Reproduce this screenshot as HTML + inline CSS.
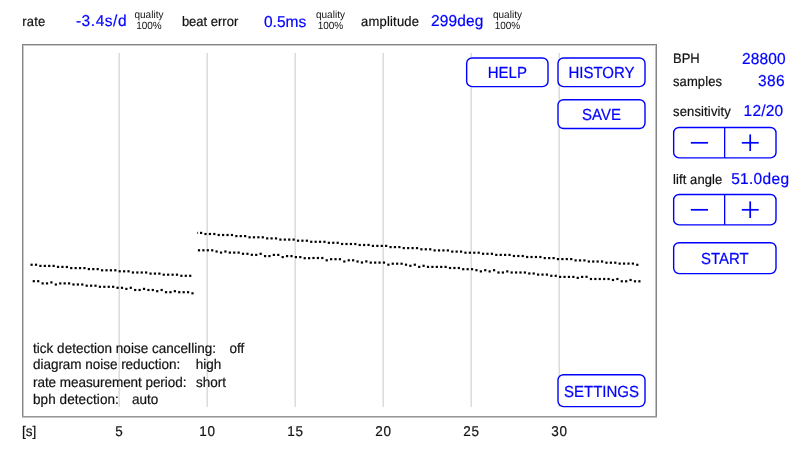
<!DOCTYPE html>
<html><head><meta charset="utf-8"><title>Timegrapher</title>
<style>
html,body{margin:0;padding:0;background:#fff;}
body{width:811px;height:456px;position:relative;overflow:hidden;font-family:"Liberation Sans",Arial,Helvetica,sans-serif;-webkit-font-smoothing:antialiased;text-rendering:geometricPrecision;}
#w{position:absolute;left:0;top:0;width:811px;height:456px;will-change:transform;}
.t{position:absolute;white-space:nowrap;-webkit-text-stroke:0.2px currentColor;}
.frame{position:absolute;box-sizing:border-box;border:1px solid #838383;border-bottom-color:#979797;box-shadow:inset 1px 1px 0 #cacaca,inset -1px 0 0 #c2c2c2,0 1px 0 #c2c2c2;}
.grid{position:absolute;background:#dcdcdc;box-shadow:-1px 0 0 #ececec;}
.btn{position:absolute;box-sizing:border-box;border:1.7px solid #0000ff;border-radius:6px;background:#fff;}
.div,.bar{position:absolute;background:#0000ff;}
.dots,.shapes{position:absolute;left:0;top:0;}
.dots{fill:#000;}
</style></head><body>
<div id="w">
<svg class="shapes" width="811" height="456" viewBox="0 0 811 456"><rect x="22" y="44" width="635" height="1" fill="#838383"/><rect x="23" y="45" width="633" height="1" fill="#cacaca"/><rect x="22" y="44" width="1" height="373" fill="#838383"/><rect x="23" y="45" width="1" height="371" fill="#cacaca"/><rect x="656" y="44" width="1" height="373" fill="#858585"/><rect x="655" y="46" width="1" height="370" fill="#c2c2c2"/><rect x="22" y="416" width="635" height="1" fill="#979797"/><rect x="22" y="417" width="635" height="1" fill="#c4c4c4"/><rect x="119" y="53" width="1" height="354" fill="#dcdcdc"/><rect x="118" y="53" width="1" height="354" fill="#ececec"/><rect x="207" y="53" width="1" height="354" fill="#dcdcdc"/><rect x="206" y="53" width="1" height="354" fill="#ececec"/><rect x="295" y="53" width="1" height="354" fill="#dcdcdc"/><rect x="294" y="53" width="1" height="354" fill="#ececec"/><rect x="383" y="53" width="1" height="354" fill="#dcdcdc"/><rect x="382" y="53" width="1" height="354" fill="#ececec"/><rect x="471" y="53" width="1" height="354" fill="#dcdcdc"/><rect x="470" y="53" width="1" height="354" fill="#ececec"/><rect x="559" y="53" width="1" height="354" fill="#dcdcdc"/><rect x="558" y="53" width="1" height="354" fill="#ececec"/><rect x="466.65" y="58.0" width="81.35" height="28.65" rx="5.5" ry="5.5" fill="#fff" stroke="#0000ff" stroke-width="1.4"/><rect x="558.0" y="58.0" width="87.00" height="28.65" rx="5.5" ry="5.5" fill="#fff" stroke="#0000ff" stroke-width="1.4"/><rect x="558.0" y="99.7" width="87.00" height="28.80" rx="5.5" ry="5.5" fill="#fff" stroke="#0000ff" stroke-width="1.4"/><rect x="558.0" y="374.7" width="87.00" height="31.90" rx="5.5" ry="5.5" fill="#fff" stroke="#0000ff" stroke-width="1.4"/><rect x="673.65" y="127.5" width="102.35" height="30.40" rx="5.5" ry="5.5" fill="#fff" stroke="#0000ff" stroke-width="1.4"/><rect x="724" y="127.50" width="1.3" height="30.40" fill="#0000ff"/><rect x="690.8" y="141.95" width="17.2" height="1.7" fill="#0000ff"/><rect x="741.8" y="141.95" width="16.9" height="1.7" fill="#0000ff"/><rect x="749.35" y="134.40" width="1.7" height="16.6" fill="#0000ff"/><rect x="673.65" y="194.5" width="102.35" height="30.40" rx="5.5" ry="5.5" fill="#fff" stroke="#0000ff" stroke-width="1.4"/><rect x="724" y="194.50" width="1.3" height="30.40" fill="#0000ff"/><rect x="690.8" y="208.95" width="17.2" height="1.7" fill="#0000ff"/><rect x="741.8" y="208.95" width="16.9" height="1.7" fill="#0000ff"/><rect x="749.35" y="201.40" width="1.7" height="16.6" fill="#0000ff"/><rect x="673.65" y="242.7" width="102.35" height="30.90" rx="5.5" ry="5.5" fill="#fff" stroke="#0000ff" stroke-width="1.4"/></svg>
<svg class="dots" width="811" height="456" viewBox="0 0 811 456"><rect x="30.50" y="263.65" width="2.2" height="2.2"/><rect x="34.91" y="263.65" width="2.2" height="2.2"/><rect x="39.31" y="264.80" width="2.2" height="2.2"/><rect x="43.72" y="264.80" width="2.2" height="2.2"/><rect x="48.12" y="264.80" width="2.2" height="2.2"/><rect x="52.53" y="264.80" width="2.2" height="2.2"/><rect x="56.93" y="265.80" width="2.2" height="2.2"/><rect x="61.34" y="265.80" width="2.2" height="2.2"/><rect x="65.74" y="265.90" width="2.2" height="2.2"/><rect x="70.15" y="267.00" width="2.2" height="2.2"/><rect x="74.56" y="267.00" width="2.2" height="2.2"/><rect x="78.96" y="267.00" width="2.2" height="2.2"/><rect x="83.37" y="267.00" width="2.2" height="2.2"/><rect x="87.77" y="268.00" width="2.2" height="2.2"/><rect x="92.18" y="268.00" width="2.2" height="2.2"/><rect x="96.58" y="268.00" width="2.2" height="2.2"/><rect x="100.99" y="269.20" width="2.2" height="2.2"/><rect x="105.39" y="269.20" width="2.2" height="2.2"/><rect x="109.80" y="269.20" width="2.2" height="2.2"/><rect x="114.21" y="269.20" width="2.2" height="2.2"/><rect x="118.61" y="270.20" width="2.2" height="2.2"/><rect x="123.02" y="270.20" width="2.2" height="2.2"/><rect x="127.42" y="270.20" width="2.2" height="2.2"/><rect x="131.83" y="271.40" width="2.2" height="2.2"/><rect x="136.23" y="271.40" width="2.2" height="2.2"/><rect x="140.64" y="271.40" width="2.2" height="2.2"/><rect x="145.04" y="271.40" width="2.2" height="2.2"/><rect x="149.45" y="272.50" width="2.2" height="2.2"/><rect x="153.86" y="272.50" width="2.2" height="2.2"/><rect x="158.26" y="272.50" width="2.2" height="2.2"/><rect x="162.67" y="273.60" width="2.2" height="2.2"/><rect x="167.07" y="273.60" width="2.2" height="2.2"/><rect x="171.48" y="273.60" width="2.2" height="2.2"/><rect x="175.88" y="273.60" width="2.2" height="2.2"/><rect x="180.29" y="274.70" width="2.2" height="2.2"/><rect x="184.69" y="274.70" width="2.2" height="2.2"/><rect x="189.10" y="274.70" width="2.2" height="2.2"/><rect x="32.70" y="280.10" width="2.2" height="2.2"/><rect x="37.11" y="280.10" width="2.2" height="2.2"/><rect x="41.52" y="282.30" width="2.2" height="2.2"/><rect x="45.92" y="282.30" width="2.2" height="2.2"/><rect x="50.33" y="281.30" width="2.2" height="2.2"/><rect x="54.74" y="283.40" width="2.2" height="2.2"/><rect x="59.15" y="282.30" width="2.2" height="2.2"/><rect x="63.56" y="282.30" width="2.2" height="2.2"/><rect x="67.97" y="282.30" width="2.2" height="2.2"/><rect x="72.37" y="283.40" width="2.2" height="2.2"/><rect x="76.78" y="283.40" width="2.2" height="2.2"/><rect x="81.19" y="283.40" width="2.2" height="2.2"/><rect x="85.60" y="284.60" width="2.2" height="2.2"/><rect x="90.01" y="284.60" width="2.2" height="2.2"/><rect x="94.42" y="284.60" width="2.2" height="2.2"/><rect x="98.82" y="285.70" width="2.2" height="2.2"/><rect x="103.23" y="285.70" width="2.2" height="2.2"/><rect x="107.64" y="285.70" width="2.2" height="2.2"/><rect x="112.05" y="285.70" width="2.2" height="2.2"/><rect x="116.46" y="286.70" width="2.2" height="2.2"/><rect x="120.87" y="286.70" width="2.2" height="2.2"/><rect x="125.28" y="287.80" width="2.2" height="2.2"/><rect x="129.68" y="286.70" width="2.2" height="2.2"/><rect x="134.09" y="288.90" width="2.2" height="2.2"/><rect x="138.50" y="288.90" width="2.2" height="2.2"/><rect x="142.91" y="287.80" width="2.2" height="2.2"/><rect x="147.32" y="288.90" width="2.2" height="2.2"/><rect x="151.72" y="288.90" width="2.2" height="2.2"/><rect x="156.13" y="290.10" width="2.2" height="2.2"/><rect x="160.54" y="288.90" width="2.2" height="2.2"/><rect x="164.95" y="291.10" width="2.2" height="2.2"/><rect x="169.36" y="291.10" width="2.2" height="2.2"/><rect x="173.77" y="290.10" width="2.2" height="2.2"/><rect x="178.17" y="291.10" width="2.2" height="2.2"/><rect x="182.58" y="291.10" width="2.2" height="2.2"/><rect x="186.99" y="291.10" width="2.2" height="2.2"/><rect x="191.40" y="292.20" width="2.2" height="2.2"/><rect x="200.00" y="231.80" width="2.2" height="2.2"/><rect x="204.41" y="232.90" width="2.2" height="2.2"/><rect x="208.81" y="232.90" width="2.2" height="2.2"/><rect x="213.22" y="232.90" width="2.2" height="2.2"/><rect x="217.62" y="233.90" width="2.2" height="2.2"/><rect x="222.03" y="233.90" width="2.2" height="2.2"/><rect x="226.44" y="233.90" width="2.2" height="2.2"/><rect x="230.84" y="233.90" width="2.2" height="2.2"/><rect x="235.25" y="235.00" width="2.2" height="2.2"/><rect x="239.65" y="235.00" width="2.2" height="2.2"/><rect x="244.06" y="235.00" width="2.2" height="2.2"/><rect x="248.47" y="236.20" width="2.2" height="2.2"/><rect x="252.87" y="236.20" width="2.2" height="2.2"/><rect x="257.28" y="236.20" width="2.2" height="2.2"/><rect x="261.68" y="236.20" width="2.2" height="2.2"/><rect x="266.09" y="237.30" width="2.2" height="2.2"/><rect x="270.50" y="237.30" width="2.2" height="2.2"/><rect x="274.90" y="237.30" width="2.2" height="2.2"/><rect x="279.31" y="238.50" width="2.2" height="2.2"/><rect x="283.72" y="238.50" width="2.2" height="2.2"/><rect x="288.12" y="238.50" width="2.2" height="2.2"/><rect x="292.53" y="238.50" width="2.2" height="2.2"/><rect x="296.93" y="239.60" width="2.2" height="2.2"/><rect x="301.34" y="239.60" width="2.2" height="2.2"/><rect x="305.75" y="239.60" width="2.2" height="2.2"/><rect x="310.15" y="240.70" width="2.2" height="2.2"/><rect x="314.56" y="240.70" width="2.2" height="2.2"/><rect x="318.96" y="240.70" width="2.2" height="2.2"/><rect x="323.37" y="240.70" width="2.2" height="2.2"/><rect x="327.78" y="241.70" width="2.2" height="2.2"/><rect x="332.18" y="241.70" width="2.2" height="2.2"/><rect x="336.59" y="241.70" width="2.2" height="2.2"/><rect x="340.99" y="242.90" width="2.2" height="2.2"/><rect x="345.40" y="242.90" width="2.2" height="2.2"/><rect x="349.81" y="242.90" width="2.2" height="2.2"/><rect x="354.21" y="242.90" width="2.2" height="2.2"/><rect x="358.62" y="243.90" width="2.2" height="2.2"/><rect x="363.02" y="243.90" width="2.2" height="2.2"/><rect x="367.43" y="243.80" width="2.2" height="2.2"/><rect x="371.84" y="244.80" width="2.2" height="2.2"/><rect x="376.24" y="244.80" width="2.2" height="2.2"/><rect x="380.65" y="244.80" width="2.2" height="2.2"/><rect x="385.05" y="244.80" width="2.2" height="2.2"/><rect x="389.46" y="246.00" width="2.2" height="2.2"/><rect x="393.87" y="246.00" width="2.2" height="2.2"/><rect x="398.27" y="246.00" width="2.2" height="2.2"/><rect x="402.68" y="247.00" width="2.2" height="2.2"/><rect x="407.08" y="247.00" width="2.2" height="2.2"/><rect x="411.49" y="247.00" width="2.2" height="2.2"/><rect x="415.90" y="247.00" width="2.2" height="2.2"/><rect x="420.30" y="248.20" width="2.2" height="2.2"/><rect x="424.71" y="248.20" width="2.2" height="2.2"/><rect x="429.12" y="248.20" width="2.2" height="2.2"/><rect x="433.52" y="249.30" width="2.2" height="2.2"/><rect x="437.93" y="249.30" width="2.2" height="2.2"/><rect x="442.33" y="249.30" width="2.2" height="2.2"/><rect x="446.74" y="249.30" width="2.2" height="2.2"/><rect x="451.15" y="250.50" width="2.2" height="2.2"/><rect x="455.55" y="250.50" width="2.2" height="2.2"/><rect x="459.96" y="250.50" width="2.2" height="2.2"/><rect x="464.36" y="251.60" width="2.2" height="2.2"/><rect x="468.77" y="251.60" width="2.2" height="2.2"/><rect x="473.18" y="251.60" width="2.2" height="2.2"/><rect x="477.58" y="251.60" width="2.2" height="2.2"/><rect x="481.99" y="252.70" width="2.2" height="2.2"/><rect x="486.39" y="252.70" width="2.2" height="2.2"/><rect x="490.80" y="252.70" width="2.2" height="2.2"/><rect x="495.21" y="253.80" width="2.2" height="2.2"/><rect x="499.61" y="253.80" width="2.2" height="2.2"/><rect x="504.02" y="253.80" width="2.2" height="2.2"/><rect x="508.42" y="253.80" width="2.2" height="2.2"/><rect x="512.83" y="254.90" width="2.2" height="2.2"/><rect x="517.24" y="254.90" width="2.2" height="2.2"/><rect x="521.64" y="254.90" width="2.2" height="2.2"/><rect x="526.05" y="255.90" width="2.2" height="2.2"/><rect x="530.45" y="255.90" width="2.2" height="2.2"/><rect x="534.86" y="255.90" width="2.2" height="2.2"/><rect x="539.27" y="255.90" width="2.2" height="2.2"/><rect x="543.67" y="257.00" width="2.2" height="2.2"/><rect x="548.08" y="257.00" width="2.2" height="2.2"/><rect x="552.48" y="257.00" width="2.2" height="2.2"/><rect x="556.89" y="258.00" width="2.2" height="2.2"/><rect x="561.30" y="258.00" width="2.2" height="2.2"/><rect x="565.70" y="258.00" width="2.2" height="2.2"/><rect x="570.11" y="258.00" width="2.2" height="2.2"/><rect x="574.52" y="259.30" width="2.2" height="2.2"/><rect x="578.92" y="259.30" width="2.2" height="2.2"/><rect x="583.33" y="259.30" width="2.2" height="2.2"/><rect x="587.73" y="260.40" width="2.2" height="2.2"/><rect x="592.14" y="260.40" width="2.2" height="2.2"/><rect x="596.55" y="260.40" width="2.2" height="2.2"/><rect x="600.95" y="260.40" width="2.2" height="2.2"/><rect x="605.36" y="261.60" width="2.2" height="2.2"/><rect x="609.76" y="261.60" width="2.2" height="2.2"/><rect x="614.17" y="261.60" width="2.2" height="2.2"/><rect x="618.58" y="262.50" width="2.2" height="2.2"/><rect x="622.98" y="262.50" width="2.2" height="2.2"/><rect x="627.39" y="262.50" width="2.2" height="2.2"/><rect x="631.79" y="262.50" width="2.2" height="2.2"/><rect x="636.20" y="263.70" width="2.2" height="2.2"/><rect x="197.90" y="249.20" width="2.2" height="2.2"/><rect x="202.30" y="249.20" width="2.2" height="2.2"/><rect x="206.71" y="249.20" width="2.2" height="2.2"/><rect x="211.11" y="249.20" width="2.2" height="2.2"/><rect x="215.52" y="250.40" width="2.2" height="2.2"/><rect x="219.92" y="251.50" width="2.2" height="2.2"/><rect x="224.32" y="250.40" width="2.2" height="2.2"/><rect x="228.73" y="251.50" width="2.2" height="2.2"/><rect x="233.13" y="251.50" width="2.2" height="2.2"/><rect x="237.54" y="251.50" width="2.2" height="2.2"/><rect x="241.94" y="252.70" width="2.2" height="2.2"/><rect x="246.34" y="252.70" width="2.2" height="2.2"/><rect x="250.75" y="253.70" width="2.2" height="2.2"/><rect x="255.15" y="253.80" width="2.2" height="2.2"/><rect x="259.56" y="252.70" width="2.2" height="2.2"/><rect x="263.96" y="255.00" width="2.2" height="2.2"/><rect x="268.36" y="255.00" width="2.2" height="2.2"/><rect x="272.77" y="253.80" width="2.2" height="2.2"/><rect x="277.17" y="253.80" width="2.2" height="2.2"/><rect x="281.58" y="256.00" width="2.2" height="2.2"/><rect x="285.98" y="255.00" width="2.2" height="2.2"/><rect x="290.38" y="255.00" width="2.2" height="2.2"/><rect x="294.79" y="256.00" width="2.2" height="2.2"/><rect x="299.19" y="256.00" width="2.2" height="2.2"/><rect x="303.60" y="257.10" width="2.2" height="2.2"/><rect x="308.00" y="257.10" width="2.2" height="2.2"/><rect x="312.40" y="256.90" width="2.2" height="2.2"/><rect x="316.81" y="256.90" width="2.2" height="2.2"/><rect x="321.21" y="256.90" width="2.2" height="2.2"/><rect x="325.62" y="259.20" width="2.2" height="2.2"/><rect x="330.02" y="258.10" width="2.2" height="2.2"/><rect x="334.42" y="258.10" width="2.2" height="2.2"/><rect x="338.83" y="258.10" width="2.2" height="2.2"/><rect x="343.23" y="260.40" width="2.2" height="2.2"/><rect x="347.64" y="259.20" width="2.2" height="2.2"/><rect x="352.04" y="259.20" width="2.2" height="2.2"/><rect x="356.44" y="260.40" width="2.2" height="2.2"/><rect x="360.85" y="261.40" width="2.2" height="2.2"/><rect x="365.25" y="260.30" width="2.2" height="2.2"/><rect x="369.66" y="261.50" width="2.2" height="2.2"/><rect x="374.06" y="261.50" width="2.2" height="2.2"/><rect x="378.46" y="261.50" width="2.2" height="2.2"/><rect x="382.87" y="261.50" width="2.2" height="2.2"/><rect x="387.27" y="263.60" width="2.2" height="2.2"/><rect x="391.68" y="262.60" width="2.2" height="2.2"/><rect x="396.08" y="262.60" width="2.2" height="2.2"/><rect x="400.48" y="262.60" width="2.2" height="2.2"/><rect x="404.89" y="263.60" width="2.2" height="2.2"/><rect x="409.29" y="264.70" width="2.2" height="2.2"/><rect x="413.70" y="263.60" width="2.2" height="2.2"/><rect x="418.10" y="265.80" width="2.2" height="2.2"/><rect x="422.50" y="264.70" width="2.2" height="2.2"/><rect x="426.91" y="265.80" width="2.2" height="2.2"/><rect x="431.31" y="265.80" width="2.2" height="2.2"/><rect x="435.72" y="265.80" width="2.2" height="2.2"/><rect x="440.12" y="265.80" width="2.2" height="2.2"/><rect x="444.52" y="265.80" width="2.2" height="2.2"/><rect x="448.93" y="266.90" width="2.2" height="2.2"/><rect x="453.33" y="266.90" width="2.2" height="2.2"/><rect x="457.74" y="266.90" width="2.2" height="2.2"/><rect x="462.14" y="268.10" width="2.2" height="2.2"/><rect x="466.54" y="268.10" width="2.2" height="2.2"/><rect x="470.95" y="268.10" width="2.2" height="2.2"/><rect x="475.35" y="269.10" width="2.2" height="2.2"/><rect x="479.76" y="270.30" width="2.2" height="2.2"/><rect x="484.16" y="269.10" width="2.2" height="2.2"/><rect x="488.56" y="270.30" width="2.2" height="2.2"/><rect x="492.97" y="269.10" width="2.2" height="2.2"/><rect x="497.37" y="271.40" width="2.2" height="2.2"/><rect x="501.78" y="271.40" width="2.2" height="2.2"/><rect x="506.18" y="270.30" width="2.2" height="2.2"/><rect x="510.58" y="271.40" width="2.2" height="2.2"/><rect x="514.99" y="271.40" width="2.2" height="2.2"/><rect x="519.39" y="271.40" width="2.2" height="2.2"/><rect x="523.80" y="271.40" width="2.2" height="2.2"/><rect x="528.20" y="272.40" width="2.2" height="2.2"/><rect x="532.60" y="272.40" width="2.2" height="2.2"/><rect x="537.01" y="273.50" width="2.2" height="2.2"/><rect x="541.41" y="273.50" width="2.2" height="2.2"/><rect x="545.82" y="273.50" width="2.2" height="2.2"/><rect x="550.22" y="274.70" width="2.2" height="2.2"/><rect x="554.62" y="274.70" width="2.2" height="2.2"/><rect x="559.03" y="275.80" width="2.2" height="2.2"/><rect x="563.43" y="275.80" width="2.2" height="2.2"/><rect x="567.84" y="275.80" width="2.2" height="2.2"/><rect x="572.24" y="275.80" width="2.2" height="2.2"/><rect x="576.64" y="276.80" width="2.2" height="2.2"/><rect x="581.05" y="275.80" width="2.2" height="2.2"/><rect x="585.45" y="275.70" width="2.2" height="2.2"/><rect x="589.86" y="277.90" width="2.2" height="2.2"/><rect x="594.26" y="277.90" width="2.2" height="2.2"/><rect x="598.66" y="277.90" width="2.2" height="2.2"/><rect x="603.07" y="277.90" width="2.2" height="2.2"/><rect x="607.47" y="277.90" width="2.2" height="2.2"/><rect x="611.88" y="278.90" width="2.2" height="2.2"/><rect x="616.28" y="277.90" width="2.2" height="2.2"/><rect x="620.68" y="280.20" width="2.2" height="2.2"/><rect x="625.09" y="280.20" width="2.2" height="2.2"/><rect x="629.49" y="278.90" width="2.2" height="2.2"/><rect x="633.90" y="280.20" width="2.2" height="2.2"/><rect x="638.30" y="280.20" width="2.2" height="2.2"/><rect x="197.0" y="231.8" width="1.1" height="2.2" opacity="0.6"/></svg>
<div class="t" style="top:15px;font-size:13px;line-height:13px;color:#111;transform:scaleY(1.05);transform-origin:0 11.00px;letter-spacing:0.2px;left:22.3px;">rate</div>
<div class="t" style="top:14px;font-size:15.5px;line-height:15.5px;color:#0000ff;transform:scaleY(1.02);transform-origin:0 12.00px;letter-spacing:0.55px;left:75.9px;">-3.4s/d</div>
<div class="t" style="top:11px;font-size:10px;line-height:10px;color:#111;transform:scaleY(1.05);transform-origin:0 7.00px;-webkit-text-stroke:0;left:134.5px;">quality</div>
<div class="t" style="top:22px;font-size:10px;line-height:10px;color:#111;transform:scaleY(1.05);transform-origin:0 7.00px;-webkit-text-stroke:0;left:48.94999999999999px;width:200px;text-align:center;">100%</div>
<div class="t" style="top:15px;font-size:13px;line-height:13px;color:#111;transform:scaleY(1.05);transform-origin:0 11.00px;left:181.9px;">beat error</div>
<div class="t" style="top:15px;font-size:15.5px;line-height:15.5px;color:#0000ff;transform:scaleY(1.02);transform-origin:0 12.00px;left:264px;">0.5ms</div>
<div class="t" style="top:11px;font-size:10px;line-height:10px;color:#111;transform:scaleY(1.05);transform-origin:0 7.00px;-webkit-text-stroke:0;left:316px;">quality</div>
<div class="t" style="top:22px;font-size:10px;line-height:10px;color:#111;transform:scaleY(1.05);transform-origin:0 7.00px;-webkit-text-stroke:0;left:230.45px;width:200px;text-align:center;">100%</div>
<div class="t" style="top:15px;font-size:13px;line-height:13px;color:#111;transform:scaleY(1.05);transform-origin:0 11.00px;letter-spacing:0.2px;left:361px;">amplitude</div>
<div class="t" style="top:14px;font-size:15.5px;line-height:15.5px;color:#0000ff;transform:scaleY(1.02);transform-origin:0 12.00px;letter-spacing:0.15px;left:431px;">299deg</div>
<div class="t" style="top:11px;font-size:10px;line-height:10px;color:#111;transform:scaleY(1.05);transform-origin:0 7.00px;-webkit-text-stroke:0;left:493px;">quality</div>
<div class="t" style="top:22px;font-size:10px;line-height:10px;color:#111;transform:scaleY(1.05);transform-origin:0 7.00px;-webkit-text-stroke:0;left:407.45px;width:200px;text-align:center;">100%</div>
<div class="t" style="top:425px;font-size:13.5px;line-height:13.5px;color:#111;transform:scaleY(1.05);transform-origin:0 11.00px;left:22px;">[s]</div>
<div class="t" style="top:425px;font-size:13.5px;line-height:13.5px;color:#111;transform:scaleY(1.05);transform-origin:0 11.00px;letter-spacing:0.8px;padding-left:0.8px;left:18.700000000000003px;width:200px;text-align:center;">5</div>
<div class="t" style="top:425px;font-size:13.5px;line-height:13.5px;color:#111;transform:scaleY(1.05);transform-origin:0 11.00px;letter-spacing:0.8px;padding-left:0.8px;left:106.69999999999999px;width:200px;text-align:center;">10</div>
<div class="t" style="top:425px;font-size:13.5px;line-height:13.5px;color:#111;transform:scaleY(1.05);transform-origin:0 11.00px;letter-spacing:0.8px;padding-left:0.8px;left:194.7px;width:200px;text-align:center;">15</div>
<div class="t" style="top:425px;font-size:13.5px;line-height:13.5px;color:#111;transform:scaleY(1.05);transform-origin:0 11.00px;letter-spacing:0.8px;padding-left:0.8px;left:282.7px;width:200px;text-align:center;">20</div>
<div class="t" style="top:425px;font-size:13.5px;line-height:13.5px;color:#111;transform:scaleY(1.05);transform-origin:0 11.00px;letter-spacing:0.8px;padding-left:0.8px;left:370.7px;width:200px;text-align:center;">25</div>
<div class="t" style="top:425px;font-size:13.5px;line-height:13.5px;color:#111;transform:scaleY(1.05);transform-origin:0 11.00px;letter-spacing:0.8px;padding-left:0.8px;left:458.70000000000005px;width:200px;text-align:center;">30</div>
<div class="t" style="top:66px;font-size:15px;line-height:15px;color:#0000ff;transform:scaleY(1.07);transform-origin:0 12.00px;left:407.325px;width:200px;text-align:center;">HELP</div>
<div class="t" style="top:66px;font-size:15px;line-height:15px;color:#0000ff;transform:scaleY(1.07);transform-origin:0 12.00px;left:501.5px;width:200px;text-align:center;">HISTORY</div>
<div class="t" style="top:108px;font-size:15px;line-height:15px;color:#0000ff;transform:scaleY(1.07);transform-origin:0 12.00px;left:501.5px;width:200px;text-align:center;">SAVE</div>
<div class="t" style="top:385px;font-size:15px;line-height:15px;color:#0000ff;transform:scaleY(1.07);transform-origin:0 12.00px;left:501.5px;width:200px;text-align:center;">SETTINGS</div>
<div class="t" style="top:342px;font-size:13.5px;line-height:13.5px;color:#111;transform:scaleY(1.05);transform-origin:0 11.00px;letter-spacing:0.02px;left:33px;">tick detection noise cancelling:</div>
<div class="t" style="top:342px;font-size:13.5px;line-height:13.5px;color:#111;transform:scaleY(1.05);transform-origin:0 11.00px;left:229.4px;">off</div>
<div class="t" style="top:358px;font-size:13.5px;line-height:13.5px;color:#111;transform:scaleY(1.05);transform-origin:0 11.00px;letter-spacing:-0.03px;left:33px;">diagram noise reduction:</div>
<div class="t" style="top:358px;font-size:13.5px;line-height:13.5px;color:#111;transform:scaleY(1.05);transform-origin:0 11.00px;left:195.8px;">high</div>
<div class="t" style="top:376px;font-size:13.5px;line-height:13.5px;color:#111;transform:scaleY(1.05);transform-origin:0 11.00px;letter-spacing:-0.05px;left:33px;">rate measurement period:</div>
<div class="t" style="top:376px;font-size:13.5px;line-height:13.5px;color:#111;transform:scaleY(1.05);transform-origin:0 11.00px;left:196px;">short</div>
<div class="t" style="top:393px;font-size:13.5px;line-height:13.5px;color:#111;transform:scaleY(1.05);transform-origin:0 11.00px;letter-spacing:0.08px;left:33px;">bph detection:</div>
<div class="t" style="top:393px;font-size:13.5px;line-height:13.5px;color:#111;transform:scaleY(1.05);transform-origin:0 11.00px;left:132.1px;">auto</div>
<div class="t" style="top:52px;font-size:13px;line-height:13px;color:#111;transform:scaleY(1.05);transform-origin:0 11.00px;left:673px;">BPH</div>
<div class="t" style="top:52px;font-size:15.5px;line-height:15.5px;color:#0000ff;transform:scaleY(1.02);transform-origin:0 12.00px;letter-spacing:0.1px;right:25.399999999999977px;">28800</div>
<div class="t" style="top:75px;font-size:13px;line-height:13px;color:#111;transform:scaleY(1.05);transform-origin:0 11.00px;letter-spacing:0.1px;left:673px;">samples</div>
<div class="t" style="top:74px;font-size:15.5px;line-height:15.5px;color:#0000ff;transform:scaleY(1.02);transform-origin:0 12.00px;letter-spacing:0.3px;right:26.200000000000045px;">386</div>
<div class="t" style="top:105px;font-size:13px;line-height:13px;color:#111;transform:scaleY(1.05);transform-origin:0 11.00px;letter-spacing:0.15px;left:673px;">sensitivity</div>
<div class="t" style="top:104px;font-size:15.5px;line-height:15.5px;color:#0000ff;transform:scaleY(1.02);transform-origin:0 12.00px;letter-spacing:0.2px;right:27.600000000000023px;">12/20</div>
<div class="t" style="top:173px;font-size:13px;line-height:13px;color:#111;transform:scaleY(1.05);transform-origin:0 11.00px;letter-spacing:0.1px;left:673px;">lift angle</div>
<div class="t" style="top:172px;font-size:15.5px;line-height:15.5px;color:#0000ff;transform:scaleY(1.02);transform-origin:0 12.00px;letter-spacing:0.3px;right:21.700000000000045px;">51.0deg</div>
<div class="t" style="top:252px;font-size:15px;line-height:15px;color:#0000ff;transform:scaleY(1.07);transform-origin:0 12.00px;left:624.825px;width:200px;text-align:center;">START</div>
</div>
</body></html>
